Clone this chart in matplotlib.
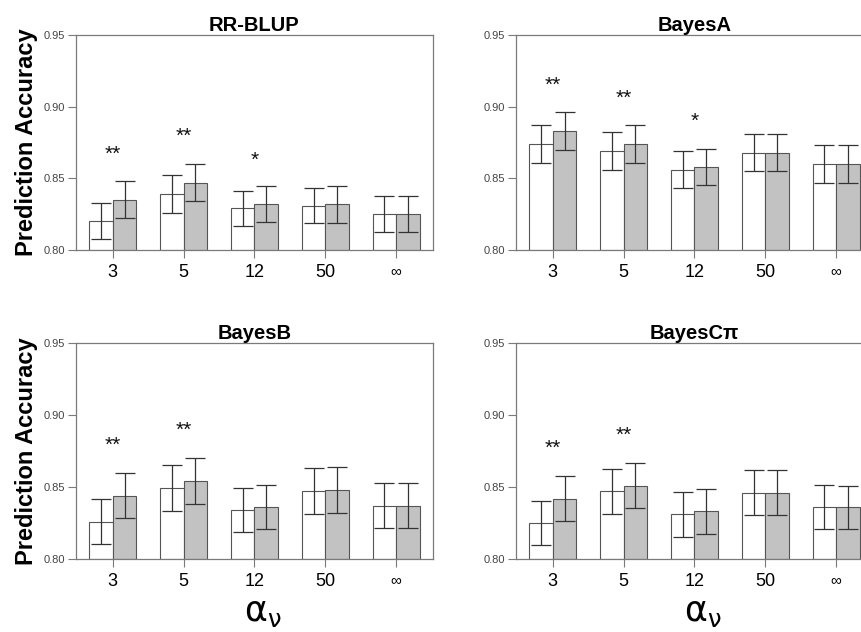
import matplotlib
matplotlib.use("Agg")
import matplotlib.pyplot as plt
import numpy as np

plt.rcParams["font.family"] = ["Liberation Sans", "DejaVu Sans"]

alpha_labels = ["3", "5", "12", "50", "\u221e"]

# RR-BLUP
rrblup_white = [0.820, 0.839, 0.829, 0.831, 0.825]
rrblup_gray = [0.835, 0.847, 0.832, 0.832, 0.825]
rrblup_white_err = [0.0126, 0.013, 0.0125, 0.0125, 0.0125]
rrblup_gray_err = [0.013, 0.013, 0.0125, 0.013, 0.0125]
rrblup_stars = ["**", "**", "*", "", ""]
rrblup_star_y = [0.867, 0.879, 0.8625, 0, 0]

# BayesA
bayesa_white = [0.874, 0.869, 0.856, 0.868, 0.860]
bayesa_gray = [0.883, 0.874, 0.858, 0.868, 0.860]
bayesa_white_err = [0.013, 0.013, 0.013, 0.013, 0.013]
bayesa_gray_err = [0.013, 0.013, 0.0125, 0.013, 0.013]
bayesa_stars = ["**", "**", "*", "", ""]
bayesa_star_y = [0.915, 0.906, 0.8895, 0, 0]

# BayesB
bayesb_white = [0.826, 0.849, 0.834, 0.847, 0.837]
bayesb_gray = [0.844, 0.854, 0.836, 0.848, 0.837]
bayesb_white_err = [0.0155, 0.016, 0.0155, 0.016, 0.0155]
bayesb_gray_err = [0.0155, 0.016, 0.0155, 0.016, 0.0155]
bayesb_stars = ["**", "**", "", "", ""]
bayesb_star_y = [0.8787, 0.8894, 0, 0, 0]

# BayesCpi
bayesc_white = [0.825, 0.847, 0.831, 0.846, 0.836]
bayesc_gray = [0.842, 0.851, 0.833, 0.846, 0.836]
bayesc_white_err = [0.0155, 0.0155, 0.0155, 0.0155, 0.0155]
bayesc_gray_err = [0.0155, 0.0155, 0.0155, 0.0155, 0.015]
bayesc_stars = ["**", "**", "", "", ""]
bayesc_star_y = [0.877, 0.886, 0, 0, 0]

panels = [
    ("RR-BLUP", rrblup_white, rrblup_gray, rrblup_white_err, rrblup_gray_err, rrblup_stars, rrblup_star_y),
    ("BayesA", bayesa_white, bayesa_gray, bayesa_white_err, bayesa_gray_err, bayesa_stars, bayesa_star_y),
    ("BayesB", bayesb_white, bayesb_gray, bayesb_white_err, bayesb_gray_err, bayesb_stars, bayesb_star_y),
    ("BayesC\u03c0", bayesc_white, bayesc_gray, bayesc_white_err, bayesc_gray_err, bayesc_stars, bayesc_star_y),
]

W, H = 862, 632
# axes rectangles in pixels: left, top, right, bottom
rects = [
    (76, 35, 433, 250),
    (516, 35, 873, 250),
    (76, 343, 433, 559),
    (516, 343, 873, 559),
]

SPINE = "#7a7a7a"
GRAY_FILL = "#c2c2c2"
EDGE = "#555555"
ERR = "#333333"

fig = plt.figure(figsize=(W / 100, H / 100), dpi=100)

for i, (title, white, gray, werr, gerr, stars, star_y) in enumerate(panels):
    l, t, r, b = rects[i]
    ax = fig.add_axes([l / W, (H - b) / H, (r - l) / W, (b - t) / H])
    centers = np.arange(len(alpha_labels)) * 3 + 2.0
    ax.bar(centers - 0.5, np.array(white) - 0.8, bottom=0.8, width=1.0,
           color="white", edgecolor=EDGE, linewidth=0.8)
    ax.bar(centers + 0.5, np.array(gray) - 0.8, bottom=0.8, width=1.0,
           color=GRAY_FILL, edgecolor=EDGE, linewidth=0.8)
    ax.errorbar(centers - 0.5, white, yerr=werr, fmt="none", ecolor=ERR,
                elinewidth=0.9, capsize=7, capthick=0.9)
    ax.errorbar(centers + 0.5, gray, yerr=gerr, fmt="none", ecolor=ERR,
                elinewidth=0.9, capsize=7, capthick=0.9)
    for c, s, y in zip(centers, stars, star_y):
        if s:
            ax.text(c, y, s, ha="center", va="center", fontsize=15, color="#111111")

    ax.set_xlim(0.44, 15.56)
    ax.set_ylim(0.80, 0.95)
    ax.set_yticks([0.80, 0.85, 0.90, 0.95])
    ax.set_yticklabels(["0.80", "0.85", "0.90", "0.95"], fontsize=8, color="#444444")
    ax.set_xticks(centers)
    ax.set_xticklabels(alpha_labels, fontsize=13)
    ax.get_xticklabels()[-1].set_fontsize(11)
    ax.tick_params(axis="both", direction="out", length=6, width=0.8, color=SPINE)
    ax.tick_params(axis="x", pad=4)
    ax.tick_params(axis="y", pad=2)
    for sp in ax.spines.values():
        sp.set_color(SPINE)
        sp.set_linewidth(0.9)
    ax.set_title(title, fontsize=14.5, fontweight="bold", pad=2)

    if i % 2 == 0:
        ax.set_ylabel("Prediction Accuracy", fontsize=17, fontweight="bold", labelpad=4)

    if i >= 2:
        cx = ((l + r) / 2 + 8) / W
        fig.text(cx, (H - 612) / H, r"$\mathrm{\alpha}_{\mathrm{\nu}}$", ha="center",
                 va="center", fontsize=25, family="DejaVu Serif")

fig.savefig("out.png", dpi=100)
